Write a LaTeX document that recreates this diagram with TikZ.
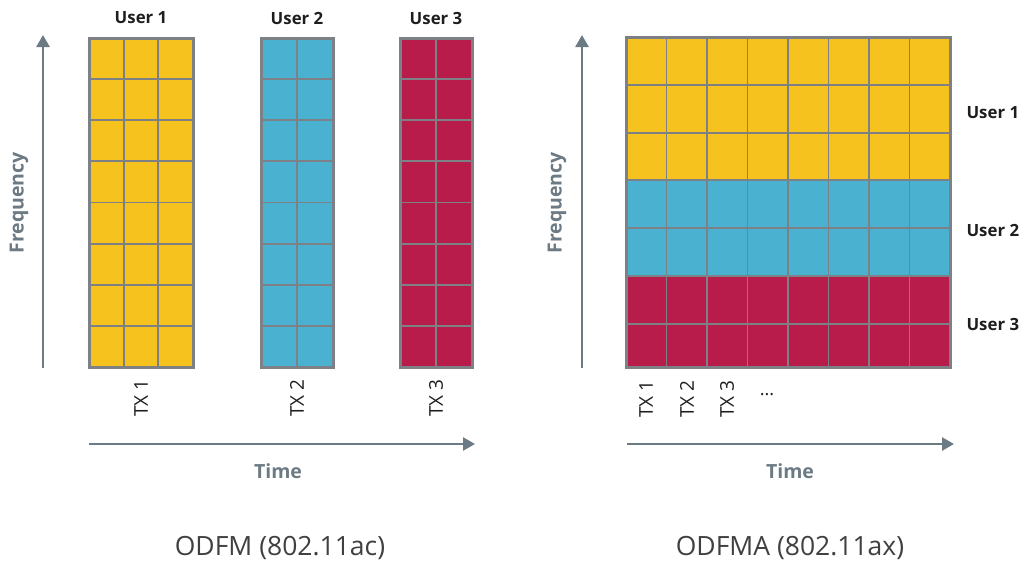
\documentclass[tikz,border=0pt]{standalone}
\usepackage{fontspec}
\setmainfont{Open Sans}
\usetikzlibrary{arrows.meta}
\definecolor{uy}{HTML}{F5C21E}
\definecolor{ub}{HTML}{4BB1D0}
\definecolor{ur}{HTML}{B71C4A}
\definecolor{gl}{HTML}{7D8186}
\definecolor{ax}{HTML}{6C7A84}
\definecolor{tt}{HTML}{1E1E1E}
\tikzset{
  inner/.style={draw=gl, line width=1.8pt},
  outer/.style={draw=gl, line width=3pt},
  axis/.style={draw=ax, line width=2.6pt, -{Triangle[width=13pt,length=12pt]}},
  axlabel/.style={text=ax, font=\bfseries\fontsize{19.5}{22}\selectfont},
  user/.style={text=tt, font=\bfseries\fontsize{16.8}{19}\selectfont},
  txlabel/.style={text=tt, rotate=90, font=\fontsize{19}{21}\selectfont},
  title/.style={text=tt!85, font=\fontsize{26.5}{30}\selectfont},
}
\begin{document}
\begin{tikzpicture}[x=1pt,y=-1pt]
\useasboundingbox (0,0) rectangle (1020,565);
% ---------- left panel ----------
% user 1 grid
\fill[uy] (89,38) rectangle (193,367);
\foreach \i in {1,2} \draw[inner] ({89+\i*104/3},38) -- ({89+\i*104/3},367);
\foreach \j in {1,...,7} \draw[inner] (89,{38+\j*329/8}) -- (193,{38+\j*329/8});
\draw[outer] (89,38) rectangle (193,367);
% user 2 grid
\fill[ub] (261,38) rectangle (333,367);
\draw[inner] (297,38) -- (297,367);
\foreach \j in {1,...,7} \draw[inner] (261,{38+\j*329/8}) -- (333,{38+\j*329/8});
\draw[outer] (261,38) rectangle (333,367);
% user 3 grid
\fill[ur] (400,38) rectangle (472,367);
\draw[inner] (436,38) -- (436,367);
\foreach \j in {1,...,7} \draw[inner] (400,{38+\j*329/8}) -- (472,{38+\j*329/8});
\draw[outer] (400,38) rectangle (472,367);

\node[user] (u1) at (141,18) {User 1};
\node[user] (u2) at (297,18) {User 2};
\node[user] (u3) at (436,18) {User 3};

\node[txlabel] (tx1) at (141,398) {TX 1};
\node[txlabel] (tx2) at (297,398) {TX 2};
\node[txlabel] (tx3) at (436,398) {TX 3};

\coordinate (fl0) at (43,368);
\coordinate (fl1) at (43,35);
\draw[axis] (fl0) -- (fl1);
\coordinate (tl0) at (89,444);
\coordinate (tl1) at (475,444);
\draw[axis] (tl0) -- (tl1);
\node[axlabel, rotate=90] (fql) at (19,203) {Frequency};
\node[axlabel] (tml) at (278,471) {Time};
\node[title] (t1) at (280,548) {ODFM (802.11ac)};

% ---------- right panel ----------
\fill[uy] (626,37) rectangle (950,180);
\fill[ub] (626,180) rectangle (950,276);
\fill[ur] (626,276) rectangle (950,367);
\foreach \i in {1,...,7} \draw[inner] ({626+\i*40.5},37) -- ({626+\i*40.5},367);
\foreach \yy in {85,133,180,228,276,324} \draw[inner] (626,\yy) -- (950,\yy);
\draw[outer] (626,37) rectangle (950,367);

\node[user, anchor=west] (ru1) at (963,113) {User 1};
\node[user, anchor=west] (ru2) at (963,230) {User 2};
\node[user, anchor=west] (ru3) at (963,324) {User 3};

\node[txlabel] (rtx1) at (646,399) {TX 1};
\node[txlabel] (rtx2) at (687,399) {TX 2};
\node[txlabel] (rtx3) at (727,399) {TX 3};
\node[text=tt, font=\fontsize{18}{20}\selectfont] (rdots) at (767,395) {...};

\coordinate (fr0) at (582,368);
\coordinate (fr1) at (582,35);
\draw[axis] (fr0) -- (fr1);
\coordinate (tr0) at (627,444);
\coordinate (tr1) at (954,444);
\draw[axis] (tr0) -- (tr1);
\node[axlabel, rotate=90] (fqr) at (557,203) {Frequency};
\node[axlabel] (tmr) at (790,471) {Time};
\node[title] (t2) at (790,548) {ODFMA (802.11ax)};
\end{tikzpicture}
\end{document}
